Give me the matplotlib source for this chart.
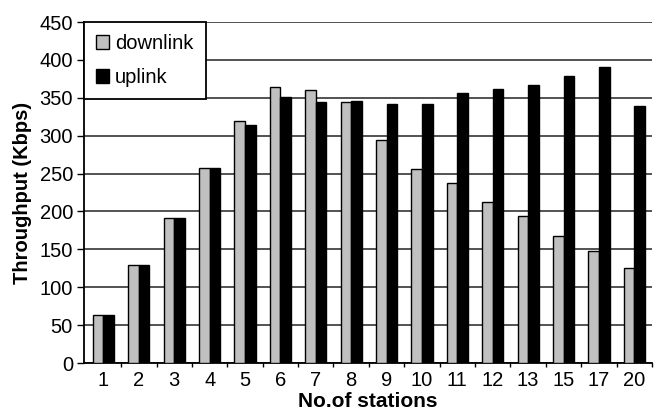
import matplotlib
matplotlib.use("Agg")
import matplotlib.pyplot as plt
import numpy as np

stations = ["1", "2", "3", "4", "5", "6", "7", "8", "9", "10", "11", "12", "13", "15", "17", "20"]
downlink = [64, 129, 192, 257, 320, 364, 360, 345, 294, 256, 238, 213, 194, 167, 148, 126]
uplink = [64, 129, 192, 257, 314, 351, 344, 346, 342, 342, 356, 361, 367, 379, 390, 339]
yticks = [0, 50, 100, 150, 200, 250, 300, 350, 400, 450]

plt.rcParams['font.family'] = ['Liberation Sans', 'DejaVu Sans']

W, H = 654, 411
fig = plt.figure(figsize=(W / 100, H / 100), dpi=100)
ax = fig.add_axes([84 / W, 1 - 363 / H, (652 - 84) / W, (363 - 22) / H])

x = np.arange(len(stations))
bw = 0.3
ax.bar(x - bw / 2, downlink, width=bw, color="#c0c0c0", edgecolor="black", linewidth=1.0,
       label="downlink", zorder=3)
ax.bar(x + bw / 2, uplink, width=bw, color="black", edgecolor="black", linewidth=1.0,
       label="uplink", zorder=3)

ax.set_xlim(-0.55, len(stations) - 0.5)
ax.set_ylim(0, 450)
ax.set_yticks(yticks)
ax.set_xticks(x)
ax.set_xticklabels(stations)
ax.set_xticks(np.arange(len(stations)) + 0.5, minor=True)
ax.tick_params(axis="x", which="major", length=0, labelsize=14.5, pad=6)
ax.tick_params(axis="x", which="minor", length=3, width=1, direction="out")
ax.tick_params(axis="y", length=5, width=1, labelsize=14.5, pad=3)

ax.yaxis.grid(True, color="#444444", linewidth=1.3, zorder=0)
ax.set_axisbelow(True)
for s in ["top", "right"]:
    ax.spines[s].set_visible(False)
ax.spines["left"].set_linewidth(1.3)
ax.spines["bottom"].set_linewidth(1.3)

ax.set_ylabel("Throughput (Kbps)", fontsize=14.5, fontweight="bold", labelpad=5)
ax.set_xlabel("No.of stations", fontsize=15, fontweight="bold", labelpad=1)

leg = ax.legend(loc="upper left", bbox_to_anchor=(0, 1), borderaxespad=0, fancybox=False,
                frameon=True, edgecolor="black", fontsize=14.5, handlelength=0.65,
                handleheight=0.65, handletextpad=0.3, labelspacing=0.75, borderpad=0.6)
leg.get_frame().set_linewidth(1.3)
leg.get_frame().set_alpha(1)
leg.set_zorder(5)

fig.savefig("out.png", dpi=100)
